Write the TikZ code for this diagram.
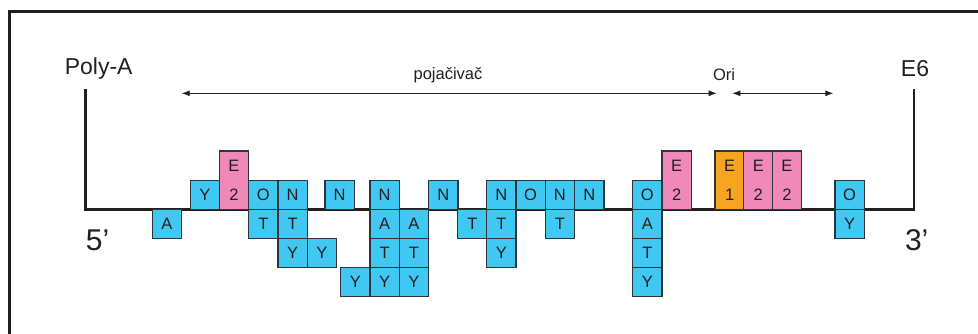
\documentclass[tikz,border=0pt]{standalone}
\usepackage{fontspec}
\setmainfont{Liberation Sans}
\usetikzlibrary{arrows.meta}
\definecolor{cblue}{HTML}{40C8F2}
\definecolor{cpink}{HTML}{F088B8}
\definecolor{corange}{HTML}{F6A421}
\definecolor{cline}{HTML}{2E3538}
\definecolor{txt}{HTML}{231F20}
\tikzset{
  cell/.style={draw=cline, line width=1.2pt, minimum width=29.2pt, minimum height=29.1pt,
    inner sep=0pt, font=\fontsize{16.5}{18}\selectfont, text=txt},
  bcell/.style={cell, fill=cblue},
  tallcell/.style={cell, minimum height=58.3pt, align=center,
    font=\fontsize{16.5}{29.2}\selectfont},
  pcell/.style={tallcell, fill=cpink},
  ocell/.style={tallcell, fill=corange},
  strand/.style={line width=2.6pt, draw=txt},
  frameline/.style={line width=2.6pt, draw=txt},
  span/.style={line width=0.9pt, draw=txt, {Latex[length=8pt,width=6pt]}-{Latex[length=8pt,width=6pt]}},
  biglabel/.style={font=\fontsize{23}{26}\selectfont, text=txt, inner sep=0pt},
  endlabel/.style={font=\fontsize{30}{34}\selectfont, text=txt, inner sep=0pt},
  smalllabel/.style={font=\fontsize{16.5}{19}\selectfont, text=txt, inner sep=0pt}
}
\begin{document}
\begin{tikzpicture}[x=1pt,y=-1pt]
\useasboundingbox (0,0) rectangle (978,333);
\clip (0,0) rectangle (978,333);
\fill[white] (0,0) rectangle (978,333);
% frame
\draw[frameline] (9.7,345) -- (9.7,11.7) -- (995,11.7);
% strand
\coordinate (pa) at (85.7,89.3);
\coordinate (c5) at (85.7,209.3);
\coordinate (c3) at (914,209.3);
\coordinate (e6) at (914,89.3);
\draw[strand] (pa) -- (c5) -- (c3) -- (e6);
% labels
\node[biglabel] (polya) at (98.7,69) {Poly-A};
\node[biglabel] (e6lab) at (915,69) {E6};
\node[endlabel] (five) at (97.5,240) {5’};
\node[endlabel] (three) at (916.7,240) {3’};
\node[smalllabel] (poj) at (448,75) {pojačivač};
\node[smalllabel] (ori) at (724,75) {Ori};
% spans
\coordinate (p1) at (181.7,93.3);
\coordinate (p2) at (716.7,93.3);
\coordinate (o1) at (732.3,93.3);
\coordinate (o2) at (833.3,93.3);
\draw[span] (p1) -- (p2);
\draw[span] (o1) -- (o2);
% cells
\node[bcell] (a1) at (166.9,224.0) {A};
\node[bcell] (a2) at (204.9,194.8) {Y};
\node[pcell] (a3) at (233.9,180.2) {E\\2};
\node[bcell] (a4) at (263.3,194.8) {O};
\node[bcell] (a4b) at (263.3,224.0) {T};
\node[bcell] (a5) at (292.6,194.8) {N};
\node[bcell] (a5b) at (292.6,224.0) {T};
\node[bcell] (a5c) at (292.6,253.2) {Y};
\node[bcell] (a6) at (321.9,253.2) {Y};
\node[bcell] (a7) at (339.6,194.8) {N};
\node[bcell] (a8) at (355.3,282.3) {Y};
\node[bcell] (a9) at (384.6,194.8) {N};
\node[bcell] (a9b) at (384.6,224.0) {A};
\node[bcell] (a9c) at (384.6,253.2) {T};
\node[bcell] (a9d) at (384.6,282.3) {Y};
\node[bcell] (a10b) at (413.9,224.0) {A};
\node[bcell] (a10c) at (413.9,253.2) {T};
\node[bcell] (a10d) at (413.9,282.3) {Y};
\node[bcell] (a11) at (443.3,194.8) {N};
\node[bcell] (a12) at (472.3,224.0) {T};
\node[bcell] (a13) at (501.3,194.8) {N};
\node[bcell] (a13b) at (501.3,224.0) {T};
\node[bcell] (a13c) at (501.3,253.2) {Y};
\node[bcell] (a14) at (530.6,194.8) {O};
\node[bcell] (a15) at (559.9,194.8) {N};
\node[bcell] (a15b) at (559.9,224.0) {T};
\node[bcell] (a16) at (589.3,194.8) {N};
\node[bcell] (a17) at (647.3,194.8) {O};
\node[bcell] (a17b) at (647.3,224.0) {A};
\node[bcell] (a17c) at (647.3,253.2) {T};
\node[bcell] (a17d) at (647.3,282.3) {Y};
\node[pcell] (a18) at (676.6,180.2) {E\\2};
\node[ocell] (a19) at (729.6,180.2) {E\\1};
\node[pcell] (a20) at (758.3,180.2) {E\\2};
\node[pcell] (a21) at (786.9,180.2) {E\\2};
\node[bcell] (a22) at (849.6,194.8) {O};
\node[bcell] (a22b) at (849.6,224.0) {Y};
\end{tikzpicture}
\end{document}
